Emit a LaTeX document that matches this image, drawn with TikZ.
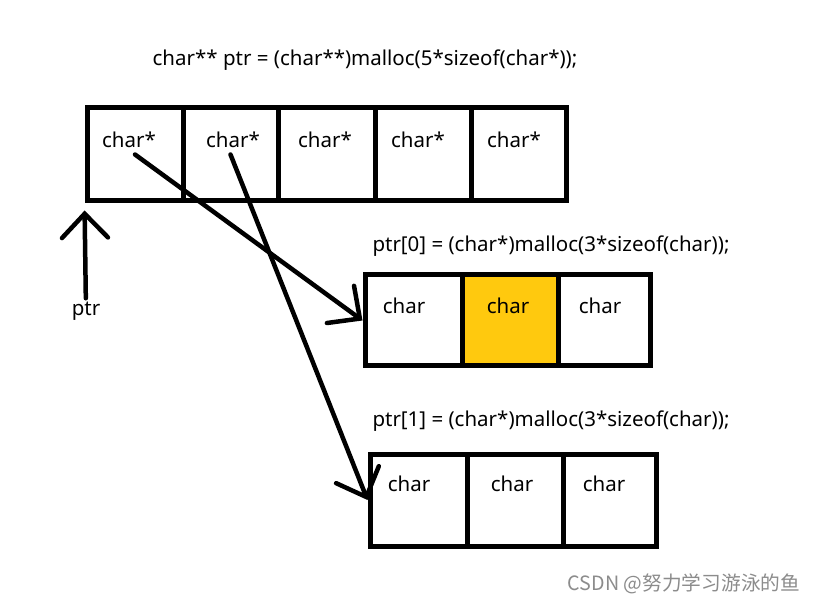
\documentclass[tikz,border=0pt]{standalone}
\usepackage{fontspec}
\setmainfont{Noto Sans}
\newfontfamily\cjk{Noto Sans CJK SC}
\usetikzlibrary{arrows.meta}
\definecolor{gold}{HTML}{FFC90E}

\begin{document}
\begin{tikzpicture}[x=1pt,y=-1pt,
	cell/.style={shape=rectangle,draw=black,line width=5pt,minimum height=93pt,inner sep=0pt},
	lbl/.style={font=\fontsize{20.5}{24}\selectfont},
	ptrarrow/.style={line width=4.5pt,line cap=round,-{Straight Barb[length=24pt,width=46pt,line cap=round]}}]

	\useasboundingbox[fill=white] (0,0) rectangle (815,604);

	\node[lbl] (title) at (365,60) {char** ptr = (char**)malloc(5*sizeof(char*));};
	\node[lbl] (t0) at (551,246) {ptr[0] = (char*)malloc(3*sizeof(char));};
	\node[lbl] (t1) at (551,421) {ptr[1] = (char*)malloc(3*sizeof(char));};

	% char* array
	\node[cell,minimum width=96pt] (a0) at (135,154.5)   {};
	\node[cell,minimum width=95pt] (a1) at (230.5,154.5) {};
	\node[cell,minimum width=97pt] (a2) at (326.5,154.5) {};
	\node[cell,minimum width=96pt] (a3) at (423,154.5)   {};
	\node[cell,minimum width=95pt] (a4) at (518.5,154.5) {};
	\node[lbl] (l0) at (129,140) {char*};
	\node[lbl] (l1) at (233,140) {char*};
	\node[lbl] (l2) at (325,140) {char*};
	\node[lbl] (l3) at (418,140) {char*};
	\node[lbl] (l4) at (514,140) {char*};

	% ptr[0]
	\node[cell,minimum width=97pt,minimum height=91pt] (b0) at (413.5,320.5) {};
	\node[cell,minimum width=96pt,minimum height=91pt,fill=gold] (b1) at (510,320.5) {};
	\node[cell,minimum width=92pt,minimum height=91pt] (b2) at (604,320.5) {};
	\node[lbl] (m0) at (404,306) {char};
	\node[lbl] (m1) at (508,306) {char};
	\node[lbl] (m2) at (600,306) {char};

	% ptr[1]
	\node[cell,minimum width=97pt,minimum height=92pt] (c0) at (418.5,500) {};
	\node[cell,minimum width=96pt,minimum height=92pt] (c1) at (515,500)   {};
	\node[cell,minimum width=93pt,minimum height=92pt] (c2) at (609.5,500) {};
	\node[lbl] (n0) at (409,484) {char};
	\node[lbl] (n1) at (512,484) {char};
	\node[lbl] (n2) at (604,484) {char};

	\node[lbl] (ptr) at (86,311) {ptr};
	\node[text=black!45,font=\cjk\fontsize{19.7}{22}\selectfont] (wm) at (684,584) {CSDN @努力学习游泳的鱼};

	\draw[ptrarrow,shorten >=7pt] (ptr) -- (a0.south west);
	\draw[ptrarrow] (a0.center) -- (b0.west);
	\draw[ptrarrow] (a1.center) -- (c0.west);

\end{tikzpicture}
\end{document}
